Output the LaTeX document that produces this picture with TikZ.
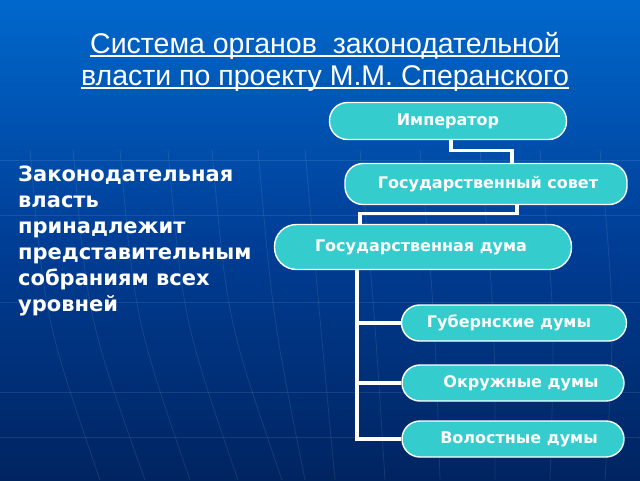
\documentclass[tikz,border=0pt]{standalone}
\usepackage{fontspec}
\setmainfont{DejaVu Sans}
\newfontfamily\titlefont{Liberation Sans}
\definecolor{bgtop}{RGB}{0,104,204}
\definecolor{bgmid}{RGB}{0,62,150}
\definecolor{bgbot}{RGB}{0,36,96}
\definecolor{pillc}{RGB}{52,204,204}
\newcommand{\myul}[1]{\setbox0\hbox{#1}\rlap{\rule[-3pt]{\wd0}{1.6pt}}\box0}
\tikzset{
  pill/.style={draw=white, line width=1.4pt, fill=pillc, rounded corners=18pt,
    text=white, font=\fontsize{16}{19}\selectfont\bfseries, inner sep=0pt},
  conn/.style={draw=white, line width=3.2pt},
  grid/.style={draw=white, opacity=0.09, line width=0.8pt}
}
\begin{document}
\begin{tikzpicture}[x=1pt,y=-1pt]
\useasboundingbox (0,0) rectangle (640,480);
% background
\shade[top color=bgtop, bottom color=bgmid] (0,0) rectangle (640,240);
\shade[top color=bgmid, bottom color=bgbot] (0,240) rectangle (640,480);
% faint grid
\foreach \yy in {160,215,302,392,437} { \draw[grid] (0,\yy) -- (640,\yy); }
\foreach \xa/\xb in {40/100,83/145,130/190,178/238,222/282,268/305,315/335,370/385,430/440,490/495,550/550,610/605} {
  \draw[grid] (\xa-10,150) .. controls (\xa+5,320) .. (\xb,480);
}
% title
\node[text=white, font=\titlefont\fontsize{28.5}{32}\selectfont, align=center] (title) at (325,62)
  {\myul{Система органов \ законодательной}\\ \myul{власти по проекту М.М. Сперанского}};
% left text
\node[text=white, font=\fontsize{21}{26}\selectfont\bfseries, align=left, anchor=north west, inner sep=0pt] (left) at (18,166)
  {Законодательная\\власть\\принадлежит\\представительным\\собраниям всех\\уровней};
% pills
\node[pill, minimum width=237pt, minimum height=37pt] (imp) at (448,121) {Император};
\node[pill, minimum width=282pt, minimum height=41pt] (sov) at (486,184) {\hspace*{4pt}Государственный совет};
\node[pill, minimum width=297pt, minimum height=45pt, rounded corners=22pt] (duma) at (423,247) {Государственная дума\hspace*{4pt}};
\node[pill, minimum width=225pt, minimum height=36pt] (gub) at (514,323) {Губернские думы\hspace*{10pt}};
\node[pill, minimum width=222pt, minimum height=36pt] (okr) at (513,383) {\hspace*{16pt}Окружные думы};
\node[pill, minimum width=222pt, minimum height=36pt] (vol) at (513,439) {\hspace*{12pt}Волостные думы};
% connectors
\draw[conn] ([xshift=3pt]imp.south) -- ++(0,10) -| ([xshift=26pt]sov.north);
\draw[conn] ([xshift=31pt]sov.south) -- ++(0,8) -| ([xshift=-63pt]duma.north);
\draw[conn] ([xshift=-66pt]duma.south) |- (gub.west);
\draw[conn] ([xshift=-66pt]duma.south) |- (okr.west);
\draw[conn] ([xshift=-66pt]duma.south) |- (vol.west);
\end{tikzpicture}
\end{document}
